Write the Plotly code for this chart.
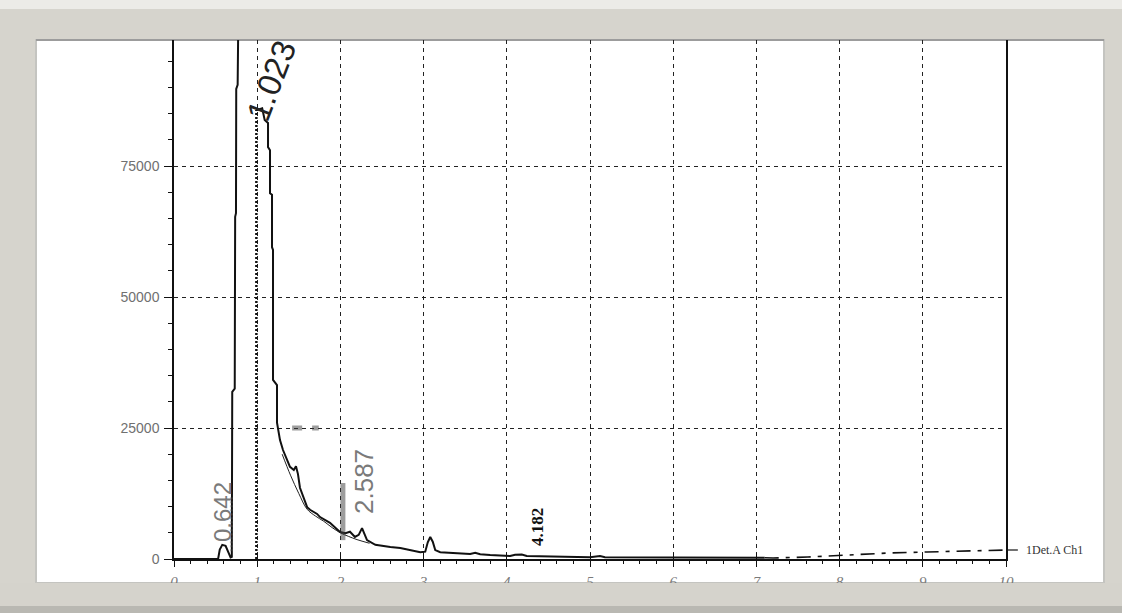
import plotly.graph_objects as go

# ---------------- data ----------------
# first (off-scale) solvent region incl. the small 0.642 peak
peak1_x = [0.0, 0.53, 0.55, 0.58, 0.62, 0.65, 0.68, 0.695, 0.700, 0.730, 0.735, 0.745, 0.748, 0.765, 0.770, 0.790]
peak1_y = [0, 0, 1800, 2700, 2500, 1200, 300, 400, 31900, 32500, 65300, 66000, 89700, 90500, 130000, 130000]

# main 1.023 peak and the decaying tail up to 7.1 min
main_x = [0.990, 1.000, 1.060, 1.090, 1.130, 1.130, 1.154, 1.154, 1.178, 1.178, 1.190, 1.190,
          1.238, 1.238, 1.274, 1.310, 1.394, 1.440, 1.466, 1.490, 1.514, 1.560, 1.600, 1.635,
          1.720, 1.755, 1.875, 1.995, 2.060, 2.115, 2.175, 2.220, 2.260, 2.320, 2.420, 2.600,
          2.720, 2.960, 3.020, 3.050, 3.080, 3.110, 3.140, 3.200, 3.560, 3.620, 3.680, 3.800,
          4.040, 4.100, 4.180, 4.240, 4.640, 5.000, 5.120, 5.180, 6.000, 7.000, 7.100]
main_y = [85700, 85700, 86000, 83800, 83200, 78600, 78000, 69800, 69500, 59500, 59000, 34200,
          33200, 26000, 22700, 20800, 17600, 17000, 17700, 16200, 13600, 11500, 9900, 9400,
          8600, 8000, 6900, 5150, 4900, 5200, 4200, 4600, 5900, 3600, 2700, 2300,
          2100, 1300, 1400, 3200, 4200, 3300, 1700, 1300, 950, 1200, 900, 760,
          570, 800, 850, 570, 380, 350, 550, 350, 300, 250, 250]

# second, thinner overlapping trace in the decay region
thin_x = [1.30, 1.40, 1.50, 1.60, 1.70, 1.80, 1.90, 2.00, 2.10, 2.20, 2.35]
thin_y = [20000, 16000, 12500, 9500, 8200, 7200, 6000, 5000, 4300, 3700, 3000]

# dash-dot continuation of the signal (1Det.A Ch1)
tail_x = [7.10, 7.20, 7.62, 8.10, 8.60, 9.05, 9.55, 10.00]
tail_y = [250, 190, 380, 760, 1150, 1340, 1530, 1720]

# integration marker at the start of the 1.023 peak
marker_x = [0.99, 0.99]
marker_y = [0, 85700]

# scan smudges (grey artefacts)
smudge_x = [1.42, 1.54, None, 1.66, 1.74, None, 2.03, 2.03]
smudge_y = [25000, 25000, None, 25000, 25000, None, 3600, 14500]
hash_x = [0.69, 0.69]
hash_y = [1500, 12000]

# peak labels
peak_labels = ["0.642", "1.023", "2.587", "4.182"]
label_x = [0.577, 1.17, 2.284, 4.363]
label_y = [8970, 91300, 14700, 6100]

x_ticks = list(range(0, 11))
y_ticks = [0, 25000, 50000, 75000]
channel_name = "1Det.A Ch1"

# ---------------- figure ----------------
W, H = 1122, 613
L, R, T, B = 174, 116, 40, 54
pw, ph = W - L - R, H - T - B


def px(xp):
    return (xp - L) / pw


def py(yp):
    return (H - B - yp) / ph


fig = go.Figure()

fig.add_trace(go.Scatter(x=peak1_x, y=peak1_y, mode="lines",
                         line=dict(color="#111111", width=2), hoverinfo="skip"))
fig.add_trace(go.Scatter(x=main_x, y=main_y, mode="lines",
                         line=dict(color="#111111", width=2), hoverinfo="skip"))
fig.add_trace(go.Scatter(x=thin_x, y=thin_y, mode="lines", line_shape="spline",
                         line=dict(color="#222222", width=1), hoverinfo="skip"))
fig.add_trace(go.Scatter(x=tail_x, y=tail_y, mode="lines",
                         line=dict(color="#111111", width=1.6, dash="14px,7px,4px,7px"),
                         hoverinfo="skip"))
fig.add_trace(go.Scatter(x=marker_x, y=marker_y, mode="lines",
                         line=dict(color="#111111", width=2.5, dash="2px,2px"), hoverinfo="skip"))
fig.add_trace(go.Scatter(x=smudge_x, y=smudge_y, mode="lines",
                         line=dict(color="rgba(60,60,60,0.5)", width=5), hoverinfo="skip"))
fig.add_trace(go.Scatter(x=hash_x, y=hash_y, mode="lines",
                         line=dict(color="rgba(90,90,90,0.35)", width=3, dash="2px,2px"),
                         hoverinfo="skip"))
# dummy trace for the overlaid axis (inside major ticks)
fig.add_trace(go.Scatter(x=[0, 10], y=[0, 0], xaxis="x2", mode="lines",
                         line=dict(width=0), hoverinfo="skip", showlegend=False))

label_styles = [
    dict(size=24, color="#7a7a7a", family="Liberation Sans", angle=-90),
    dict(size=33, color="#222222", family="Liberation Sans", angle=-69),
    dict(size=26, color="#7a7a7a", family="Liberation Sans", angle=-90),
    dict(size=17, color="#111111", family="Liberation Serif", angle=-90, bold=True),
]
for txt, lx, ly, st in zip(peak_labels, label_x, label_y, label_styles):
    fig.add_annotation(x=lx, y=ly, text=f"<b>{txt}</b>" if st.get("bold") else txt,
                       showarrow=False, textangle=st["angle"],
                       font=dict(size=st["size"], color=st["color"], family=st["family"]))

# channel label on the right
fig.add_annotation(x=px(1024), y=py(550), xref="paper", yref="paper", text=channel_name,
                   showarrow=False, xanchor="left", yanchor="middle",
                   font=dict(size=12, color="#333333", family="Liberation Serif"))

shapes = [
    # outer light top strip
    dict(type="rect", xref="paper", yref="paper", x0=px(0), x1=px(W), y0=py(0), y1=py(9),
         fillcolor="#ecebe7", line_width=0, layer="below"),
    # white inner panel
    dict(type="rect", xref="paper", yref="paper", x0=px(36), x1=px(1104), y0=py(40), y1=py(583),
         fillcolor="white", line=dict(color="#c4c4c0", width=2), layer="below"),
    # top shadow line of the panel
    dict(type="line", xref="paper", yref="paper", x0=px(36), x1=px(1104), y0=py(40), y1=py(40),
         line=dict(color="#9c9c9c", width=2), layer="below"),
    # bottom band covering tick labels partially
    dict(type="rect", xref="paper", yref="paper", x0=px(0), x1=px(W), y0=py(583), y1=py(606),
         fillcolor="#d5d3cc", line_width=0, layer="above"),
    dict(type="rect", xref="paper", yref="paper", x0=px(0), x1=px(W), y0=py(606), y1=py(W),
         fillcolor="#b9b8b2", line_width=0, layer="above"),
    # legend dash next to channel name
    dict(type="line", xref="paper", yref="paper", x0=px(1006), x1=px(1018), y0=py(550), y1=py(550),
         line=dict(color="#111111", width=1.2)),
]

fig.update_layout(
    width=W, height=H,
    margin=dict(l=L, r=R, t=T, b=B),
    paper_bgcolor="#d6d4cd",
    plot_bgcolor="white",
    showlegend=False,
    shapes=shapes,
    xaxis=dict(
        range=[0, 10], tickvals=x_ticks, ticktext=[str(v) for v in x_ticks],
        showgrid=True, gridcolor="#222222", gridwidth=1, griddash="4px,4px",
        zeroline=False, showline=True, linecolor="#111111", linewidth=1.5,
        ticks="outside", ticklen=6, tickcolor="#111111", tickwidth=1.2,
        minor=dict(dtick=0.2, ticks="outside", ticklen=3, tickcolor="#111111", showgrid=False),
        tickfont=dict(family="Liberation Serif", size=15, color="#7a7a7a", style="italic"),
        ticklabelstandoff=2,
    ),
    xaxis2=dict(
        range=[0, 10], overlaying="x", anchor="y", side="bottom",
        tickvals=x_ticks, showticklabels=False, showgrid=False, zeroline=False,
        ticks="inside", ticklen=6, tickcolor="#111111", tickwidth=1.2, showline=False,
    ),
    yaxis=dict(
        range=[0, 99046], tickvals=y_ticks, ticktext=[str(v) for v in y_ticks],
        showgrid=True, gridcolor="#222222", gridwidth=1, griddash="4px,4px",
        zeroline=False, showline=True, mirror=True, linecolor="#111111", linewidth=1.5,
        ticks="outside", ticklen=8, tickcolor="#111111", tickwidth=1.2,
        minor=dict(dtick=5000, ticks="outside", ticklen=4, tickcolor="#111111", showgrid=False),
        tickfont=dict(family="Liberation Sans", size=14, color="#707070"),
        ticklabelstandoff=2,
    ),
)

fig.write_html(
    "out.html",
    config={"displayModeBar": False},
    post_script="document.body.style.margin='0';document.body.style.background='#d6d4cd';",
)
